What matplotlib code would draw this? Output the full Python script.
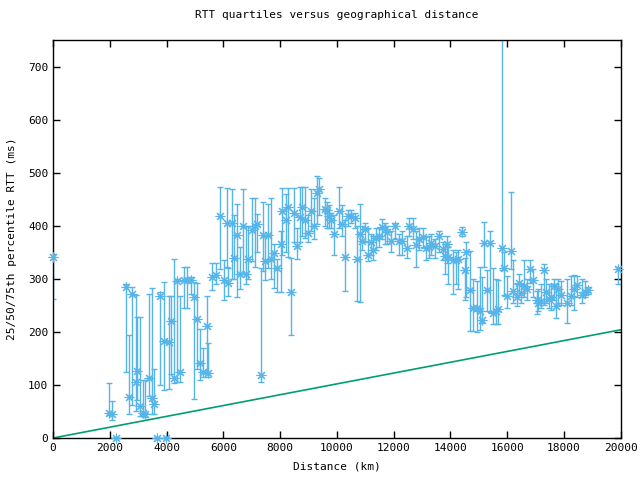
import matplotlib
matplotlib.use('Agg')
import matplotlib.pyplot as plt

# distance (km), median / 25th / 75th percentile RTT (ms)
distance = [0, 1980, 2080, 2200, 2570, 2690, 2790, 2910, 2960, 3060, 3160, 3250, 3390, 3500, 3570,
            3670, 3770, 3890, 3980, 4080, 4140, 4260, 4380, 4470, 4620, 4730, 4850, 4960, 5080, 5190,
            5290, 5410, 5470, 5610, 5740, 5880, 6030, 6120, 6170, 6290, 6380, 6490, 6580, 6700, 6780,
            6880, 7000, 7110, 7190, 7310, 7400, 7460, 7580, 7660, 7780, 7900, 8020, 8070, 8190, 8290,
            8390, 8500, 8600, 8700, 8770, 8870, 8990, 9070, 9190, 9280, 9370, 9580, 9640, 9720, 9800,
            9900, 10070, 10160, 10280, 10400, 10490, 10630, 10690, 10810, 10890, 10990, 11100, 11200,
            11280, 11370, 11480, 11600, 11690, 11780, 11900, 12040, 12180, 12300, 12450, 12550, 12690,
            12780, 12900, 13020, 13130, 13240, 13330, 13450, 13600, 13740, 13800, 13860, 13920, 14100,
            14210, 14270, 14390, 14510, 14540, 14680, 14780, 14920, 15030, 15120, 15190, 15300, 15390,
            15500, 15590, 15680, 15820, 15890, 16000, 16120, 16190, 16330, 16420, 16500, 16600, 16710,
            16800, 16910, 17040, 17090, 17180, 17290, 17380, 17470, 17530, 17630, 17710, 17790, 17910,
            18120, 18230, 18350, 18460, 18620, 18730, 18830, 19900]
rtt_med = [341, 48, 45, 0, 285, 77, 272, 105, 127, 60, 48, 45, 113, 75, 65,
           0, 267, 182, 0, 180, 221, 114, 295, 124, 297, 298, 298, 265, 224, 142,
           125, 211, 122, 304, 307, 419, 298, 405, 293, 405, 339, 383, 309, 400, 309,
           337, 392, 399, 403, 118, 382, 333, 382, 338, 348, 320, 366, 428, 411, 436,
           275, 424, 361, 416, 435, 411, 386, 427, 399, 462, 470, 431, 429, 418, 410,
           385, 427, 404, 341, 418, 419, 415, 337, 385, 372, 393, 345, 369,
           355, 377, 380, 398, 393, 389, 372, 400, 371, 371, 358, 400, 394,
           364, 376, 379, 358, 360, 367, 362, 380, 356, 343, 366, 342, 336,
           335, 337, 388, 317, 350, 279, 245, 245, 240, 223, 367, 279, 367,
           236, 240, 243, 358, 320, 268, 352, 278, 265, 292, 273, 286, 281,
           318, 298, 260, 254, 259, 317, 276, 262, 265, 286, 248, 281, 270,
           254, 267, 281, 289, 270, 276, 279, 318]
rtt_lo = [262, 43, 34, 0, 124, 45, 62, 50, 72, 42, 42, 40, 79, 45, 45,
          0, 100, 91, 0, 92, 120, 104, 106, 106, 245, 245, 272, 74, 130, 110,
          115, 123, 115, 279, 290, 318, 260, 323, 267, 300, 300, 265, 280, 310, 290,
          300, 333, 323, 350, 105, 314, 298, 320, 300, 282, 275, 275, 345, 350, 341,
          194, 370, 337, 370, 380, 377, 369, 390, 375, 403, 420, 400, 395, 395, 395,
          345, 395, 380, 278, 400, 405, 395, 259, 257, 355, 370, 333, 345,
          335, 355, 360, 375, 365, 365, 350, 375, 345, 345, 340, 380, 375,
          322, 355, 360, 335, 340, 345, 340, 350, 335, 310, 330, 290, 272,
          290, 280, 380, 260, 265, 202, 202, 200, 204, 216, 323, 240, 238,
          215, 215, 215, 317, 270, 245, 319, 255, 248, 270, 255, 265, 260,
          292, 265, 234, 240, 245, 250, 255, 245, 242, 260, 226, 255, 250,
          216, 250, 242, 265, 255, 265, 272, 290]
rtt_hi = [346, 103, 70, 0, 290, 194, 284, 270, 229, 229, 109, 109, 272, 282, 130,
          0, 275, 294, 0, 268, 268, 337, 300, 268, 322, 322, 304, 294, 292, 206,
          170, 267, 179, 330, 330, 473, 336, 471, 320, 470, 420, 441, 360, 469, 400,
          400, 452, 452, 422, 321, 445, 380, 441, 452, 365, 337, 391, 471, 460, 472,
          339, 472, 395, 474, 474, 474, 420, 470, 452, 494, 490, 452, 445, 440, 425,
          420, 473, 440, 411, 430, 430, 425, 400, 441, 400, 405, 395, 385,
          380, 395, 395, 413, 405, 400, 390, 405, 385, 390, 380, 415, 415,
          390, 395, 395, 380, 380, 385, 375, 390, 370, 365, 380, 360, 355,
          350, 355, 397, 340, 369, 353, 300, 295, 323, 304, 407, 317, 391,
          321, 300, 298, 900, 350, 305, 464, 335, 290, 310, 290, 336, 300,
          336, 318, 278, 280, 290, 328, 300, 290, 291, 300, 290, 300, 295,
          300, 305, 308, 305, 300, 295, 285, 323]

# reference line: round trip at 2/3 c in fibre
line_km = [0, 20000]
line_ms = [0, 204]

plt.rcParams['font.family'] = 'DejaVu Sans Mono'
plt.rcParams['font.size'] = 8

fig = plt.figure(figsize=(6.4, 4.8), dpi=100)
axis = fig.add_axes([0.083, 0.0875, 0.887, 0.829])

blue = '#56b4e9'
err_lo = [m - l for m, l in zip(rtt_med, rtt_lo)]
err_hi = [h - m for m, h in zip(rtt_med, rtt_hi)]
axis.errorbar(distance, rtt_med, yerr=[err_lo, err_hi], fmt='none',
              ecolor=blue, elinewidth=1, capsize=2.5, capthick=1)
axis.plot(distance, rtt_med, linestyle='none', marker=(8, 2, 0), markersize=7,
          markeredgewidth=0.8, color=blue, clip_on=False, zorder=5)
axis.plot(line_km, line_ms, color='#009e73', linewidth=1.2)

axis.set_xlim(0, 20000)
axis.set_ylim(0, 750)
axis.set_xticks(range(0, 20001, 2000))
axis.set_yticks(range(0, 701, 100))
axis.tick_params(direction='in', top=True, right=True, length=5, width=1)
for s in axis.spines.values():
    s.set_linewidth(1)

axis.set_title('RTT quartiles versus geographical distance', fontsize=8, pad=16)
axis.set_xlabel('Distance (km)', labelpad=6)
axis.set_ylabel('25/50/75th percentile RTT (ms)', labelpad=8)

fig.savefig('out.png', dpi=100)
